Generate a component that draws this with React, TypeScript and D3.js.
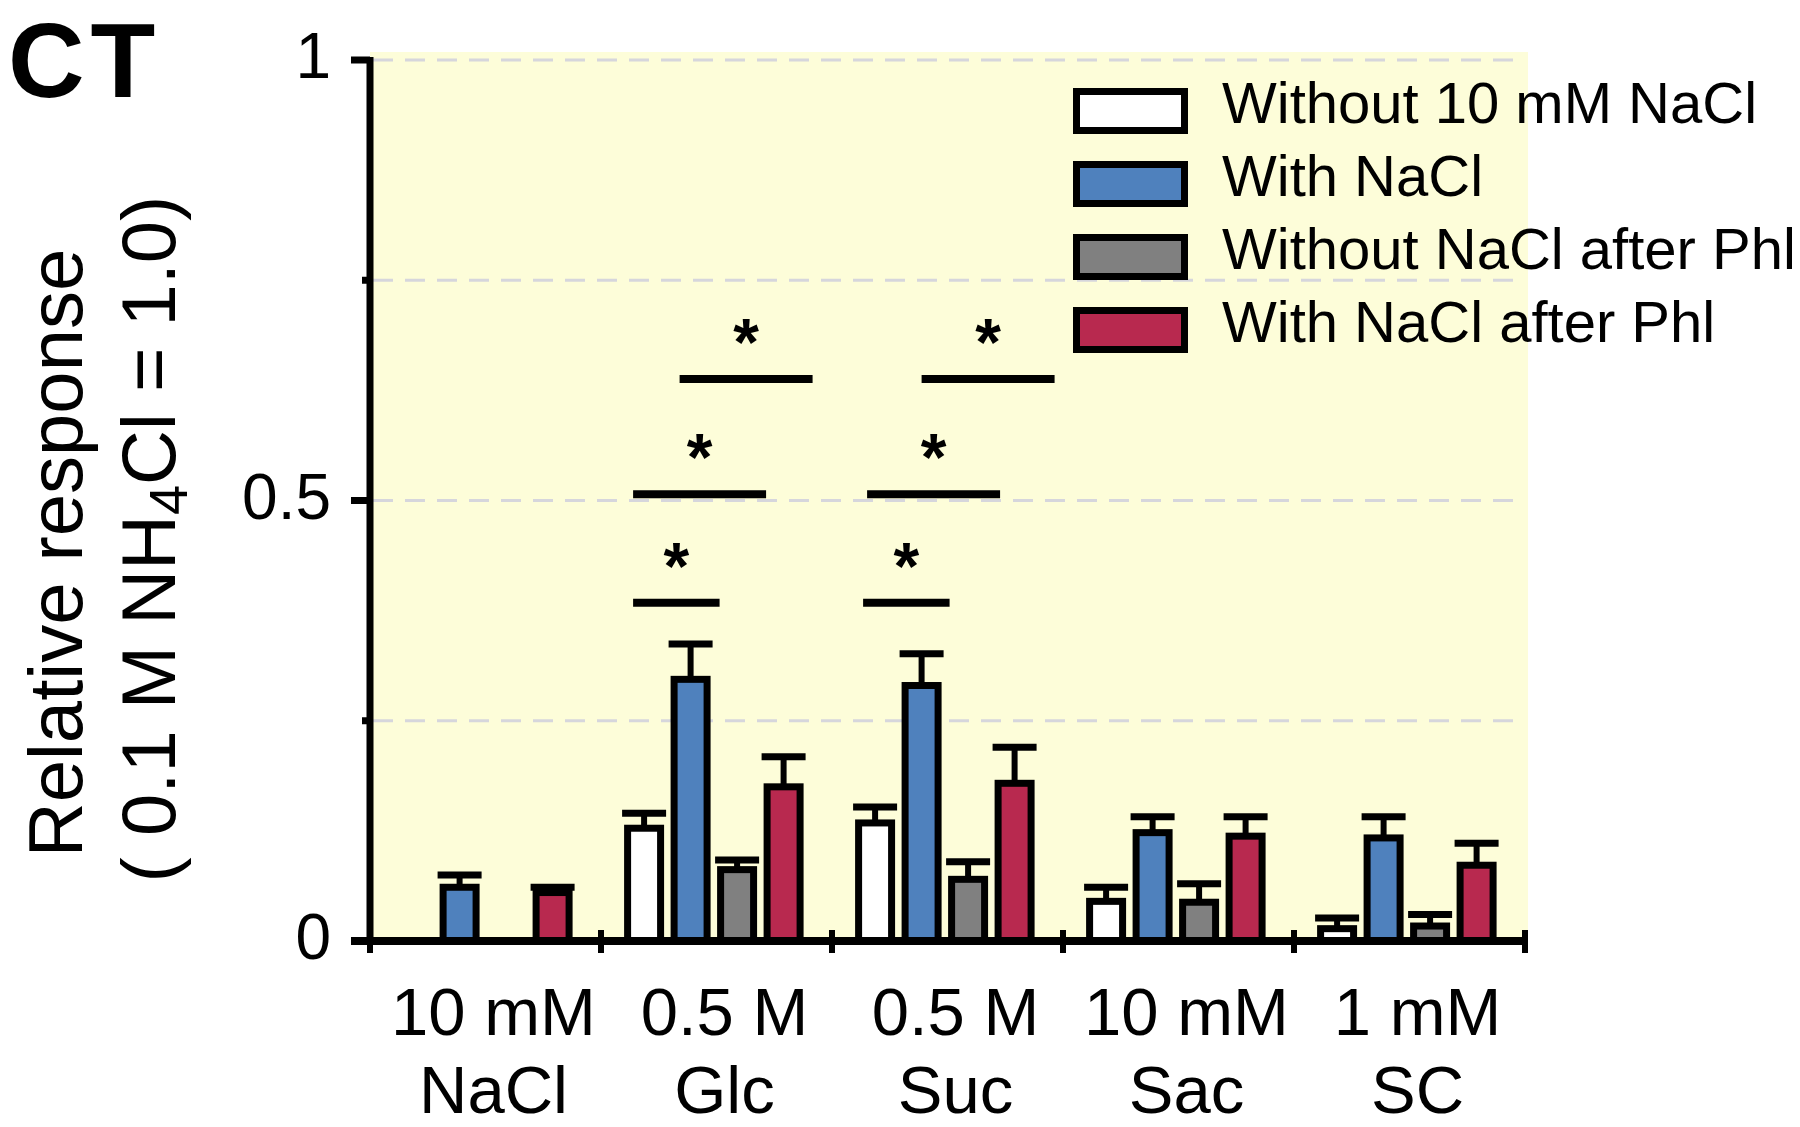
import React from 'react';
import * as d3 from 'd3';

// stimulus labels (two lines under each group)
const doses = ['10 mM', '0.5 M', '0.5 M', '10 mM', '1 mM'];
const stimuli = ['NaCl', 'Glc', 'Suc', 'Sac', 'SC'];

const seriesNames = ['Without 10 mM NaCl', 'With NaCl', 'Without NaCl after Phl', 'With NaCl after Phl'];
const seriesColors = ['#ffffff', '#4f81bd', '#808080', '#b8294f'];

// mean responses, one array per series (null = not tested)
const withoutNaCl = [null, 0.128, 0.134, 0.045, 0.014];
const withNaCl = [0.061, 0.297, 0.29, 0.123, 0.117];
const withoutNaClPhl = [null, 0.081, 0.07, 0.044, 0.017];
const withNaClPhl = [0.055, 0.175, 0.179, 0.119, 0.086];

// SEM
const withoutNaClErr = [null, 0.017, 0.018, 0.016, 0.012];
const withNaClErr = [0.014, 0.04, 0.036, 0.018, 0.024];
const withoutNaClPhlErr = [null, 0.011, 0.02, 0.021, 0.013];
const withNaClPhlErr = [0.006, 0.034, 0.041, 0.022, 0.025];

// significance bars: group, first series, last series, level
const sigGroups = ['Glc', 'Glc', 'Glc', 'Suc', 'Suc', 'Suc'];
const sigFrom = [0, 0, 1, 0, 0, 1];
const sigTo = [1, 2, 3, 1, 2, 3];
const sigLevel = [0.384, 0.507, 0.638, 0.384, 0.507, 0.638];

const yTicks = [0, 0.25, 0.5, 0.75, 1];
const yTickLabels = ['0', '', '0.5', '', '1'];

const values = [withoutNaCl, withNaCl, withoutNaClPhl, withNaClPhl];
const errors = [withoutNaClErr, withNaClErr, withoutNaClPhlErr, withNaClPhlErr];

const FONT = '"Liberation Sans", Arial, Helvetica, sans-serif';

export default function App() {
  const W = 1800;
  const H = 1127;
  const left = 370, right = 1525, top = 60, bottom = 941;

  const x0 = d3.scaleBand<string>().domain(stimuli).range([left, right]).padding(0);
  const bw = x0.bandwidth();
  const x1 = d3.scaleBand<number>()
    .domain(d3.range(seriesNames.length))
    .range([bw * 0.1, bw * 0.877])
    .paddingInner(0.14);
  const y = d3.scaleLinear().domain([0, 1]).range([bottom, top]);

  const sw = 7; // bar outline
  const capW = 44;

  const bars: React.ReactNode[] = [];
  stimuli.forEach((g, gi) => {
    values.forEach((arr, si) => {
      const v = arr[gi];
      if (v == null) return;
      const e = errors[si][gi] || 0;
      const bx = (x0(g) as number) + (x1(si) as number);
      const cx = bx + x1.bandwidth() / 2;
      bars.push(
        <g key={`${g}-${si}`}>
          <line x1={cx} x2={cx} y1={y(v)} y2={y(v + e)} stroke="#000" strokeWidth={6} />
          <line x1={cx - capW / 2} x2={cx + capW / 2} y1={y(v + e)} y2={y(v + e)} stroke="#000" strokeWidth={7} />
          <rect
            x={bx + sw / 2}
            y={y(v)}
            width={x1.bandwidth() - sw}
            height={y(0) - y(v)}
            fill={seriesColors[si]}
            stroke="#000"
            strokeWidth={sw}
          />
        </g>
      );
    });
  });

  const sig = sigGroups.map((g, i) => {
    // the Suc brackets sit a little further right in the original
    const off = g === 'Suc' ? 8 + sigFrom[i] * 8 + (sigTo[i] - sigFrom[i] === 2 ? 4 : 0) : 9;
    const xa = (x0(g) as number) + (x1(sigFrom[i]) as number) + off;
    const xb = (x0(g) as number) + (x1(sigTo[i]) as number) + x1.bandwidth() + off;
    const yy = y(sigLevel[i]);
    return (
      <g key={`sig-${i}`}>
        <line x1={xa} x2={xb} y1={yy} y2={yy} stroke="#000" strokeWidth={8} />
        <text x={(xa + xb) / 2} y={yy - 14} textAnchor="middle" fontSize={66} fontWeight="bold" fontFamily={FONT}>*</text>
      </g>
    );
  });

  return (
    <svg width={W} height={H} style={{ position: 'absolute', left: 0, top: 0, background: '#fff' }}>
      {/* plot background */}
      <rect x={left} y={52} width={right - left + 3} height={bottom - 52} fill="#fdfdd9" />

      {/* grid */}
      {yTicks.filter(t => t > 0).map(t => (
        <line key={`grid-${t}`} x1={left + 3} x2={right} y1={y(t)} y2={y(t)}
          stroke="#d6d6dc" strokeWidth={3} strokeDasharray="20 12" />
      ))}

      {/* title */}
      <text x={8} y={97} fontSize={106} fontWeight="bold" fontFamily={FONT} letterSpacing={6}>CT</text>

      {/* legend */}
      {seriesNames.map((s, i) => {
        const cy = 111 + i * 73;
        return (
          <g key={`leg-${i}`}>
            <rect x={1073 + 3.5} y={cy - 19.5} width={108} height={39} fill={seriesColors[i]} stroke="#000" strokeWidth={7} />
            <text x={1222} y={cy + 12} fontSize={58} fontFamily={FONT}>{s}</text>
          </g>
        );
      })}

      {/* significance */}
      {sig}

      {/* bars */}
      {bars}

      {/* y axis */}
      <line x1={left} x2={left} y1={top - 3} y2={bottom} stroke="#000" strokeWidth={7} />
      {yTicks.map((t, i) => {
        const major = yTickLabels[i] !== '';
        return (
          <g key={`yt-${t}`}>
            <line x1={left - (major ? 19 : 8)} x2={left} y1={y(t)} y2={y(t)} stroke="#000" strokeWidth={7} />
            {major && (
              <text x={331} y={y(t) - 4} textAnchor="end" dominantBaseline="central" fontSize={64} fontFamily={FONT}>
                {yTickLabels[i]}
              </text>
            )}
          </g>
        );
      })}

      {/* x axis */}
      <line x1={left - 19} x2={right + 3} y1={bottom} y2={bottom} stroke="#000" strokeWidth={8} />
      {stimuli.map(g => (x0(g) as number)).concat([right]).map((xx, i) => (
        <line key={`xt-${i}`} x1={xx} x2={xx} y1={bottom - 11} y2={bottom + 12} stroke="#000" strokeWidth={6} />
      ))}
      {stimuli.map((g, i) => {
        const cx = (x0(g) as number) + bw / 2 + 8;
        return (
          <g key={`xl-${g}`}>
            <text x={cx} y={1035} textAnchor="middle" fontSize={67} fontFamily={FONT}>{doses[i]}</text>
            <text x={cx} y={1113} textAnchor="middle" fontSize={67} fontFamily={FONT}>{g}</text>
          </g>
        );
      })}

      {/* y label */}
      <text transform="translate(82,553) rotate(-90)" textAnchor="middle" fontSize={76} fontFamily={FONT}>
        Relative response
      </text>
      <text transform="translate(175,539) rotate(-90)" textAnchor="middle" fontSize={76} fontFamily={FONT}>
        ( 0.1 M NH<tspan fontSize={54} dy={12}>4</tspan><tspan dy={-12}>Cl = 1.0)</tspan>
      </text>
    </svg>
  );
}
